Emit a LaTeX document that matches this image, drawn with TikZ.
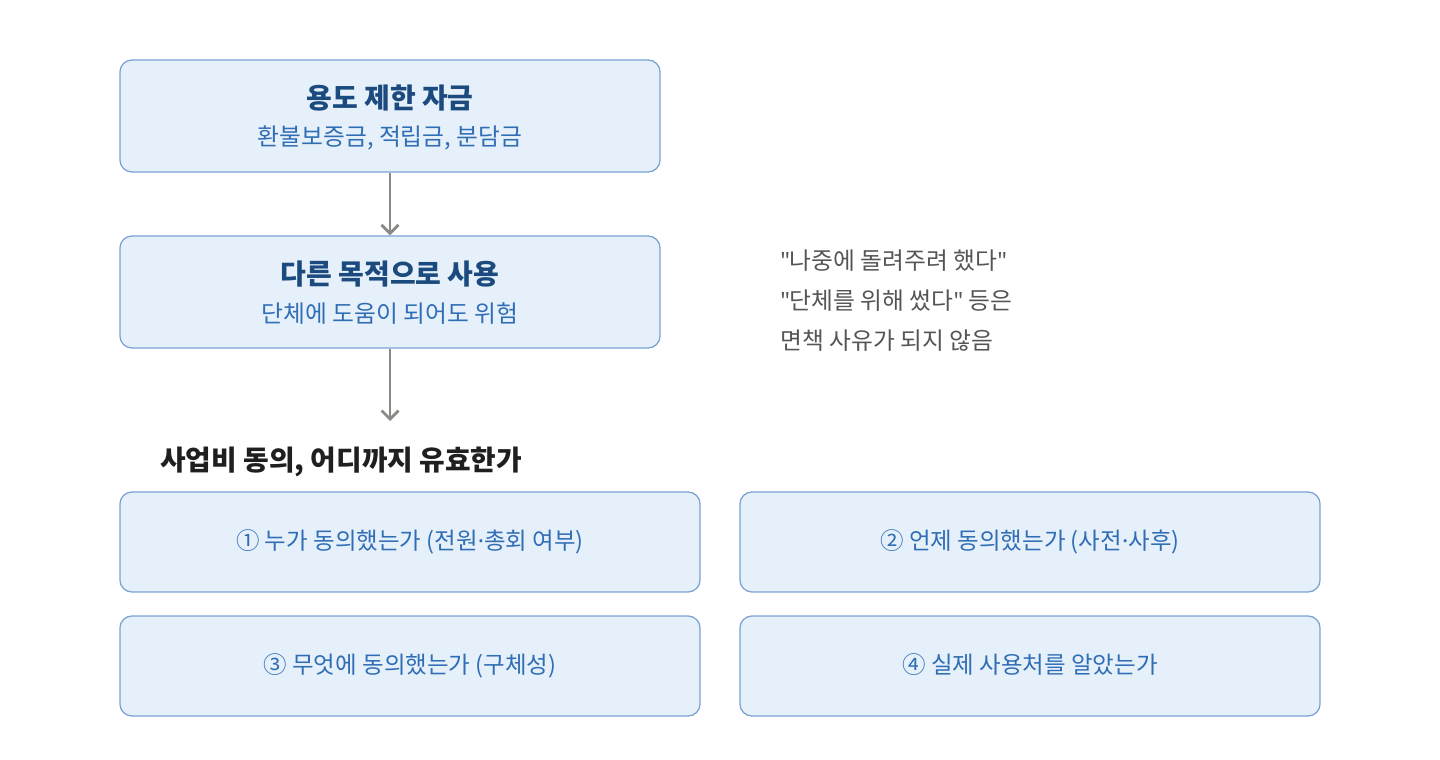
\documentclass[tikz,border=0pt]{standalone}
\usepackage{fontspec}
\setmainfont{Noto Sans CJK KR}[Ligatures=TeXOff]
\newfontfamily\latinfont{Noto Sans}
\usepackage{xcolor}
\usepackage{tikz}
\usetikzlibrary{positioning, arrows.meta}

\definecolor{boxfill}{HTML}{E6F0FA}
\definecolor{boxline}{HTML}{7BA3D3}
\definecolor{titleblue}{HTML}{1B4B7E}
\definecolor{subblue}{HTML}{2F6DB5}
\definecolor{notegray}{HTML}{555555}
\definecolor{arrowgray}{HTML}{8A8A85}

\newcommand{\mdot}{{\latinfont ·}}
\newcommand{\dq}{{\latinfont\char34}}

\tikzset{
  flowbox/.style={draw=boxline, fill=boxfill, rounded corners=0.3cm, line width=0.9pt,
    minimum width=13.5cm, minimum height=2.8cm, inner sep=0pt},
  gridbox/.style={draw=boxline, fill=boxfill, rounded corners=0.3cm, line width=0.9pt,
    minimum width=14.5cm, minimum height=2.5cm, inner sep=0pt, text depth=0.35em,
    font=\fontsize{16.7}{20}\selectfont, text=subblue},
  boxtitle/.style={font=\fontsize{19.9}{24}\selectfont\bfseries, text=titleblue, inner sep=0pt},
  boxsub/.style={font=\fontsize{16.9}{20}\selectfont, text=subblue, inner sep=0pt},
  flowarrow/.style={-{Straight Barb[length=6pt, width=12pt]}, arrowgray, line width=2pt}
}

\begin{document}
\begin{tikzpicture}[x=0.025cm, y=-0.025cm]
  \useasboundingbox (0,0) rectangle (1440,760);

  % ── Flow: restricted fund -> misuse ──
  \node[flowbox] (restrict) at (390,116) {};
  \node[boxtitle] (restrictT) at ([yshift=12.8pt]restrict.center) {용도 제한 자금};
  \node[boxsub]   (restrictS) at ([yshift=-15.3pt]restrict.center) {환불보증금, 적립금, 분담금};

  \node[flowbox] (misuse) at (390,292) {};
  \node[boxtitle] (misuseT) at ([yshift=12.8pt]misuse.center) {다른 목적으로 사용};
  \node[boxsub]   (misuseS) at ([yshift=-15.3pt]misuse.center) {단체에 도움이 되어도 위험};

  \coordinate (flowend) at (390,421);
  \draw[flowarrow] (restrict) -- (misuse);
  \draw[flowarrow] (misuse) -- (flowend);

  % ── Note on the right ──
  \node[anchor=base west, align=left, text=notegray, inner sep=0pt,
        font=\fontsize{16.9}{28.45}\selectfont] (excuse) at (780,350)
    {\dq 나중에 돌려주려 했다\dq\\\dq 단체를 위해 썼다\dq{} 등은\\면책 사유가 되지 않음};

  % ── Consent questions ──
  \node[anchor=west, inner sep=0pt, font=\fontsize{19.8}{24}\selectfont\bfseries,
        text=black!88] (consent) at (160,462) {사업비 동의, 어디까지 유효한가};

  \foreach \n/\x/\y/\q in {
      who/410/542/{① 누가 동의했는가 (전원\mdot 총회 여부)},
      when/1030/542/{② 언제 동의했는가 (사전\mdot 사후)},
      what/410/666/{③ 무엇에 동의했는가 (구체성)},
      use/1030/666/{④ 실제 사용처를 알았는가}} {
    \node[gridbox] (\n) at (\x,\y) {\q};
  }
\end{tikzpicture}
\end{document}
